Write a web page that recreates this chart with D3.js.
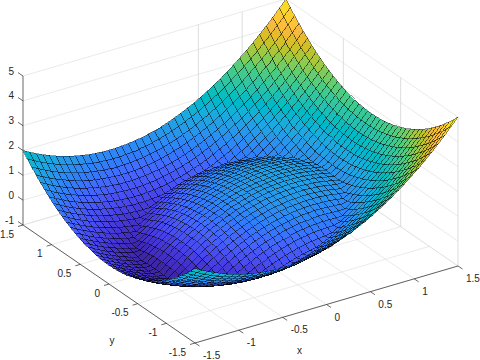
<!DOCTYPE html>
<html><head><meta charset="utf-8">
<script src="https://cdn.jsdelivr.net/npm/d3@7"></script>
<style>html,body{margin:0;padding:0;background:#fff}svg{display:block}text{font-family:"Liberation Sans",Arial,sans-serif;font-size:10px;fill:#262626}</style>
</head><body><svg id="c" width="480" height="360"></svg>
<script>
const xTicks=[-1.5,-1,-0.5,0,0.5,1,1.5];
const yTicks=[-1.5,-1,-0.5,0,0.5,1,1.5];
const zTicks=[-1,0,1,2,3,4,5];
const wallXLines=[0.5,1,1.5];
const wallYLines=[1.5,0.5,-0.5,-1.5];
const gridValues=[-1.5,-1.425,-1.35,-1.275,-1.2,-1.125,-1.05,-0.975,-0.9,-0.825,-0.75,-0.675,-0.6,-0.525,-0.45,-0.375,-0.3,-0.225,-0.15,-0.075,0,0.075,0.15,0.225,0.3,0.375,0.45,0.525,0.6,0.675,0.75,0.825,0.9,0.975,1.05,1.125,1.2,1.275,1.35,1.425,1.5];
// surface heights read per row, for |y| = 0, 0.075, ... 1.5 (the surface is mirror-symmetric in y)
const zRows=[
[-.25,-.39,-.53,-.65,-.76,-.86,-.95,-.93,-.71,-.51,-.31,-.13,.04,.2,.35,.48,.61,.72,.83,.92,1,1.07,1.13,1.17,1.21,1.23,1.25,1.25,1.24,1.22,1.19,1.14,1.09,1.02,1.15,1.39,1.64,1.9,2.17,2.46,2.75],
[-.24,-.39,-.52,-.64,-.75,-.85,-.94,-.93,-.72,-.51,-.32,-.14,.03,.19,.34,.48,.6,.72,.82,.91,.99,1.06,1.12,1.17,1.2,1.23,1.24,1.24,1.23,1.21,1.18,1.14,1.08,1.02,1.16,1.4,1.65,1.91,2.18,2.46,2.76],
[-.23,-.37,-.5,-.63,-.74,-.84,-.92,-.95,-.73,-.53,-.34,-.15,.02,.18,.33,.46,.59,.7,.81,.9,.98,1.05,1.11,1.15,1.19,1.21,1.23,1.23,1.22,1.2,1.17,1.12,1.07,1,1.18,1.41,1.66,1.92,2.2,2.48,2.77],
[-.2,-.34,-.48,-.6,-.71,-.81,-.9,-.97,-.76,-.56,-.36,-.18,-.01,.15,.3,.43,.56,.67,.78,.87,.95,1.02,1.08,1.12,1.16,1.18,1.2,1.2,1.19,1.17,1.14,1.09,1.04,.98,1.2,1.44,1.69,1.95,2.22,2.51,2.8],
[-.16,-.3,-.44,-.56,-.67,-.77,-.86,-.93,-.8,-.6,-.4,-.22,-.05,.11,.26,.39,.52,.63,.74,.83,.91,.98,1.04,1.08,1.12,1.14,1.16,1.16,1.15,1.13,1.1,1.05,1,1.02,1.24,1.48,1.73,1.99,2.26,2.55,2.84],
[-.11,-.25,-.39,-.51,-.62,-.72,-.81,-.88,-.85,-.65,-.45,-.27,-.1,.06,.21,.34,.47,.58,.69,.78,.86,.93,.99,1.03,1.07,1.09,1.11,1.11,1.1,1.08,1.05,1,.95,1.07,1.29,1.53,1.78,2.04,2.31,2.6,2.89],
[-.05,-.19,-.33,-.45,-.56,-.66,-.75,-.82,-.89,-.71,-.52,-.33,-.16,0,.15,.28,.41,.52,.63,.72,.8,.87,.93,.97,1.01,1.03,1.05,1.05,1.04,1.02,.99,.94,.91,1.13,1.36,1.59,1.84,2.1,2.38,2.66,2.95],
[.03,-.12,-.25,-.37,-.48,-.58,-.67,-.75,-.81,-.78,-.59,-.41,-.24,-.08,.07,.21,.33,.45,.55,.64,.72,.79,.85,.9,.93,.96,.97,.97,.96,.94,.91,.87,.99,1.2,1.43,1.67,1.92,2.18,2.45,2.73,3.03],
[.11,-.03,-.17,-.29,-.4,-.5,-.59,-.66,-.73,-.78,-.67,-.49,-.32,-.16,-.01,.12,.25,.36,.47,.56,.64,.71,.77,.81,.85,.87,.89,.89,.88,.86,.83,.87,1.07,1.29,1.51,1.75,2,2.26,2.53,2.82,3.11],
[.21,.06,-.07,-.19,-.3,-.4,-.49,-.57,-.63,-.69,-.73,-.59,-.42,-.26,-.11,.03,.15,.27,.37,.46,.54,.61,.67,.72,.75,.78,.79,.79,.78,.76,.77,.96,1.17,1.38,1.61,1.85,2.1,2.36,2.63,2.91,3.21],
[.31,.17,.04,-.09,-.2,-.3,-.39,-.46,-.53,-.58,-.63,-.66,-.52,-.36,-.22,-.08,.05,.16,.27,.36,.44,.51,.57,.61,.65,.67,.69,.69,.68,.69,.88,1.07,1.27,1.49,1.72,1.95,2.2,2.46,2.74,3.02,3.31],
[.43,.29,.15,.03,-.08,-.18,-.27,-.34,-.41,-.46,-.51,-.54,-.56,-.48,-.33,-.2,-.07,.04,.15,.24,.32,.39,.45,.49,.53,.55,.57,.57,.64,.81,.99,1.19,1.39,1.61,1.83,2.07,2.32,2.58,2.85,3.14,3.43],
[.56,.42,.28,.16,.05,-.05,-.14,-.21,-.28,-.33,-.38,-.41,-.43,-.44,-.44,-.33,-.2,-.09,.02,.11,.19,.26,.32,.36,.4,.42,.46,.61,.77,.94,1.12,1.32,1.52,1.74,1.96,2.2,2.45,2.71,2.98,3.27,3.56],
[.7,.56,.42,.3,.19,.09,0,-.07,-.14,-.19,-.24,-.27,-.29,-.3,-.3,-.28,-.26,-.22,-.12,-.03,.05,.12,.18,.23,.34,.47,.6,.75,.91,1.08,1.26,1.46,1.66,1.88,2.1,2.34,2.59,2.85,3.12,3.41,3.7],
[.85,.71,.58,.45,.34,.24,.16,.08,.01,-.04,-.09,-.12,-.14,-.15,-.15,-.13,-.11,-.07,-.03,.03,.1,.18,.28,.38,.49,.62,.76,.9,1.06,1.23,1.42,1.61,1.81,2.03,2.26,2.49,2.74,3,3.28,3.56,3.85],
[1.02,.87,.74,.62,.51,.41,.32,.24,.18,.12,.08,.05,.03,.02,.02,.03,.06,.09,.14,.2,.27,.35,.44,.54,.66,.78,.92,1.07,1.23,1.4,1.58,1.77,1.98,2.19,2.42,2.66,2.91,3.17,3.44,3.72,4.02],
[1.19,1.05,.91,.79,.68,.58,.49,.42,.35,.3,.25,.22,.2,.19,.19,.21,.23,.27,.31,.37,.44,.52,.61,.72,.83,.96,1.09,1.24,1.4,1.57,1.75,1.95,2.15,2.37,2.59,2.83,3.08,3.34,3.61,3.9,4.19],
[1.38,1.23,1.1,.98,.87,.77,.68,.6,.54,.48,.44,.41,.39,.38,.38,.39,.42,.45,.5,.56,.63,.71,.8,.9,1.02,1.14,1.28,1.43,1.59,1.76,1.94,2.13,2.34,2.55,2.78,3.02,3.27,3.53,3.8,4.08,4.38],
[1.57,1.43,1.3,1.17,1.06,.96,.88,.8,.73,.68,.64,.6,.58,.57,.58,.59,.61,.65,.7,.75,.82,.9,1,1.1,1.21,1.34,1.48,1.62,1.78,1.95,2.14,2.33,2.53,2.75,2.98,3.21,3.46,3.72,4,4.28,4.57],
[1.78,1.64,1.5,1.38,1.27,1.17,1.08,1.01,.94,.89,.84,.81,.79,.78,.78,.8,.82,.86,.9,.96,1.03,1.11,1.2,1.31,1.42,1.55,1.68,1.83,1.99,2.16,2.34,2.54,2.74,2.96,3.18,3.42,3.67,3.93,4.2,4.49,4.78],
[2,1.86,1.72,1.6,1.49,1.39,1.3,1.23,1.16,1.11,1.06,1.03,1.01,1,1,1.02,1.04,1.08,1.12,1.18,1.25,1.33,1.42,1.53,1.64,1.77,1.9,2.05,2.21,2.38,2.56,2.76,2.96,3.18,3.4,3.64,3.89,4.15,4.42,4.71,5]
];
const parula=["#3e26a8","#402ab4","#422ec0","#4332cb","#4537d5","#463cde","#4741e5","#4747eb","#484df0","#4852f4","#4758f8","#465efb","#4563fd","#4269fe","#3e6fff","#3875fe","#327cfc","#2f81fa","#2e87f7","#2d8cf3","#2b91ef","#2796eb","#259be8","#23a0e5","#20a5e3","#1ca9df","#18addb","#12b1d6","#08b5d0","#01b8ca","#02bac3","#0bbdbd","#19bfb6","#24c1ae","#2cc4a7","#31c69f","#37c897","#3fca8e","#4acb84","#57cc7a","#64cd6f","#72cd64","#81cc59","#8fcb4e","#9dc943","#abc739","#b9c431","#c5c22a","#d1bf27","#dcbd29","#e6bb2d","#f0ba36","#f8ba3d","#febe3c","#fec338","#fec832","#fcce2d","#fad32b","#f7d926","#f5de21","#f5e41c","#f5eb17","#f6f212","#f9fb0e"];

const svg=d3.select("#c");
const ox=195, oy=343;
const xH=d3.scaleLinear([-1.5,1.5],[0,263]), xV=d3.scaleLinear([-1.5,1.5],[0,-77]);
const yH=d3.scaleLinear([-1.5,1.5],[0,-172]), yV=d3.scaleLinear([-1.5,1.5],[0,-118]);
const zV=d3.scaleLinear([-1,5],[0,-149]);
const P=(x,y,z)=>[ox+xH(x)+yH(y), oy+xV(x)+yV(y)+zV(z)];
const unitX=d3.scaleLinear([-1.5,1.5],[0,1]), unitY=unitX, unitZ=d3.scaleLinear([-1,5],[0,1]);
const depth=(x,y,z)=>-25628*unitX(x)-39187*unitY(y)+44278*unitZ(z);
const line=(a,b)=>{const p=P(...a),q=P(...b);return svg.append("line").attr("x1",p[0]).attr("y1",p[1]).attr("x2",q[0]).attr("y2",q[1]);};

zTicks.forEach(z=>{
  line([-1.5,1.5,z],[1.5,1.5,z]).attr("stroke","#dcdcdc").attr("stroke-width",.6);
  line([1.5,1.5,z],[1.5,-1.5,z]).attr("stroke","#dcdcdc").attr("stroke-width",.6);
});
xTicks.forEach(x=>line([x,-1.5,-1],[x,1.5,-1]).attr("stroke","#dcdcdc").attr("stroke-width",.6));
yTicks.forEach(y=>line([-1.5,y,-1],[1.5,y,-1]).attr("stroke","#dcdcdc").attr("stroke-width",.6));
wallXLines.forEach(x=>line([x,1.5,-1],[x,1.5,5]).attr("stroke","#d4d4d4").attr("stroke-width",.8));
wallYLines.forEach(y=>line([1.5,y,-1],[1.5,y,5]).attr("stroke","#d4d4d4").attr("stroke-width",.8));

const n=gridValues.length;
const zAt=(i,j)=>zRows[Math.abs(j-20)][i];
const zAll=d3.range(n).flatMap(i=>d3.range(n).map(j=>zAt(i,j)));
const color=d3.scaleQuantize().domain(d3.extent(zAll)).range(parula);
const cells=[];
for(let j=0;j<n-1;j++)for(let i=0;i<n-1;i++){
  const c=[[i,j],[i+1,j],[i+1,j+1],[i,j+1]].map(([a,b])=>[gridValues[a],gridValues[b],zAt(a,b)]);
  cells.push({c,z:zAt(i,j),d:d3.mean(c,p=>depth(...p))});
}
cells.sort((a,b)=>d3.ascending(a.d,b.d));
svg.append("g").attr("shape-rendering","crispEdges").selectAll("path").data(cells).join("path")
  .attr("d",d=>"M"+d.c.map(p=>P(...p).map(v=>v.toFixed(2)).join(",")).join("L")+"Z")
  .attr("fill",d=>color(d.z)).attr("stroke","#000").attr("stroke-opacity",.8).attr("stroke-width",.5);

const axis=(a,b)=>line(a,b).attr("stroke","#262626").attr("stroke-width",.7);
axis([-1.5,1.5,-1],[-1.5,1.5,5]);
axis([-1.5,1.5,-1],[-1.5,-1.5,-1]);
axis([-1.5,-1.5,-1],[1.5,-1.5,-1]);
const tick=(p,dx,dy)=>svg.append("line").attr("x1",p[0]).attr("y1",p[1]).attr("x2",p[0]+dx).attr("y2",p[1]+dy).attr("stroke","#262626").attr("stroke-width",.7);
const label=(x,y,t,anchor)=>svg.append("text").attr("x",x).attr("y",y).attr("text-anchor",anchor).attr("dominant-baseline","central").text(t);
zTicks.forEach(z=>{const p=P(-1.5,1.5,z);tick(p,-5,-3.4);label(14,p[1]-5,z,"end");});
yTicks.forEach(y=>{const p=P(-1.5,y,-1);tick(p,-5,1.5);label(p[0]-9,p[1]+9,y,"end");});
xTicks.forEach(x=>{const p=P(x,-1.5,-1);tick(p,4.5,3);label(p[0]+8,p[1]+12.5,x,"start");});
label(299.5,350,"x","middle");
label(112,340,"y","middle");
</script></body></html>
